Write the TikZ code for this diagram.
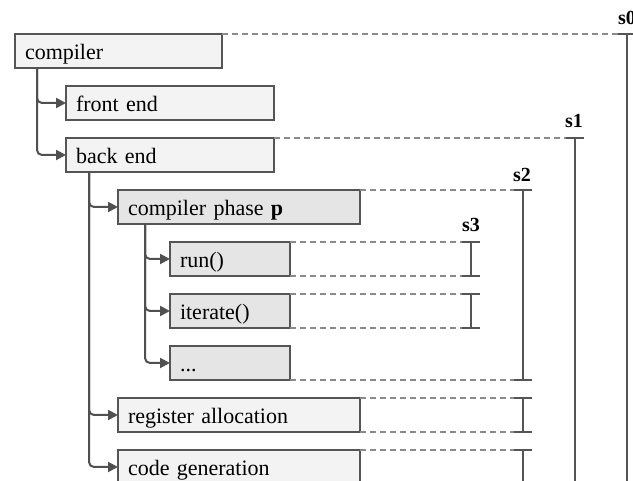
\documentclass[tikz,border=0pt]{standalone}
\usepackage{fontspec}
\setmainfont{Liberation Serif}
\usetikzlibrary{arrows.meta}
\definecolor{boxline}{HTML}{555555}
\definecolor{connline}{HTML}{505050}
\definecolor{dashline}{HTML}{8A8A8A}
\definecolor{fillA}{HTML}{F3F3F3}
\definecolor{fillB}{HTML}{E5E5E5}
\begin{document}
\begin{tikzpicture}[x=1pt,y=-1pt,
  box/.style={draw=boxline, line width=1.5pt, rectangle, anchor=north west,
    outer sep=0pt, inner xsep=10pt, inner ysep=0pt, minimum height=34pt,
    text width=#1, align=left, text height=20pt, text depth=3pt,
    font=\fontsize{22}{24}\selectfont},
  lightbox/.style={box=#1, fill=fillA},
  darkbox/.style={box=#1, fill=fillB},
  conn/.style={draw=connline, line width=2pt, rounded corners=5pt,
    -{Triangle[length=10pt,width=10pt]}},
  dashln/.style={draw=dashline, line width=1.5pt, dash pattern=on 6pt off 4pt},
  span/.style={draw=boxline, line width=2pt},
  lbl/.style={anchor=base, inner sep=0pt, font=\fontsize{20}{22}\selectfont\bfseries}
]
\useasboundingbox (0,0) rectangle (633,481);

% tree of boxes
\node[lightbox=187pt] (compiler) at (15,34) {compiler};
\node[lightbox=188pt] (front) at (66,86) {front end};
\node[lightbox=188pt] (back) at (66,138) {back end};
\node[darkbox=222pt] (phase) at (118,190) {compiler phase \textbf{p}};
\node[darkbox=100pt] (run) at (170,242) {run()};
\node[darkbox=100pt] (iter) at (170,294) {iterate()};
\node[darkbox=100pt] (dots) at (170,346) {...};
\node[lightbox=222pt] (regalloc) at (118,398) {register allocation};
\node[lightbox=222pt] (codegen) at (118,450) {code generation};

% connectors
\draw[conn] ([xshift=22pt]compiler.south west) |- (front.west);
\draw[conn] ([xshift=22pt]compiler.south west) |- (back.west);
\draw[conn] ([xshift=23pt]back.south west) |- (phase.west);
\draw[conn] ([xshift=23pt]back.south west) |- (regalloc.west);
\draw[conn] ([xshift=23pt]back.south west) |- (codegen.west);
\draw[conn] ([xshift=27pt]phase.south west) |- (run.west);
\draw[conn] ([xshift=27pt]phase.south west) |- (iter.west);
\draw[conn] ([xshift=27pt]phase.south west) |- (dots.west);

% span ends
\coordinate (v0t) at (627,34);  \coordinate (v0b) at (627,492);
\coordinate (v1t) at (575,138); \coordinate (v1b) at (575,492);
\coordinate (v2t) at (523,190); \coordinate (v2b) at (523,380);
\coordinate (v3t) at (471,242); \coordinate (v3b) at (471,276);
\coordinate (v4t) at (471,294); \coordinate (v4b) at (471,328);
\coordinate (v5t) at (523,398); \coordinate (v5b) at (523,432);
\coordinate (v6t) at (523,450); \coordinate (v6b) at (523,492);

% dashed guides
\draw[dashln] (compiler.north east) -- ([xshift=-9pt]v0t);
\draw[dashln] (back.north east) -- ([xshift=-9pt]v1t);
\draw[dashln] (phase.north east) -- ([xshift=-9pt]v2t);
\draw[dashln] (dots.south east) -- ([xshift=-9pt]v2b);
\draw[dashln] (run.north east) -- ([xshift=-9pt]v3t);
\draw[dashln] (run.south east) -- ([xshift=-9pt]v3b);
\draw[dashln] (iter.north east) -- ([xshift=-9pt]v4t);
\draw[dashln] (iter.south east) -- ([xshift=-9pt]v4b);
\draw[dashln] (regalloc.north east) -- ([xshift=-9pt]v5t);
\draw[dashln] (regalloc.south east) -- ([xshift=-9pt]v5b);
\draw[dashln] (codegen.north east) -- ([xshift=-9pt]v6t);

% spans with end ticks
\foreach \t/\b in {v0t/v0b, v1t/v1b, v6t/v6b} {
  \draw[span] (\t) -- (\b);
  \draw[span] ([xshift=-9pt]\t) -- ([xshift=9pt]\t);
}
\foreach \t/\b in {v2t/v2b, v3t/v3b, v4t/v4b, v5t/v5b} {
  \draw[span] (\t) -- (\b);
  \draw[span] ([xshift=-9pt]\t) -- ([xshift=9pt]\t);
  \draw[span] ([xshift=-9pt]\b) -- ([xshift=9pt]\b);
}

% span labels
\node[lbl] (s0) at (627,25) {s0};
\node[lbl] (s1) at (574,128) {s1};
\node[lbl] (s2) at (522,182) {s2};
\node[lbl] (s3) at (471,232) {s3};
\end{tikzpicture}
\end{document}
